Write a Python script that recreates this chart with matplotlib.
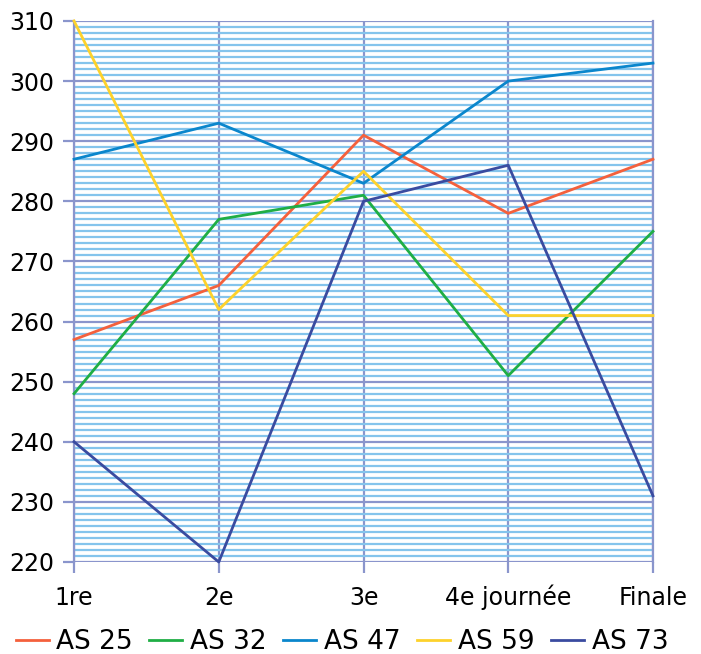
import numpy as np
import matplotlib
matplotlib.use("Agg")
import matplotlib.pyplot as plt
from matplotlib.ticker import MultipleLocator

# --- Data ---
categories = ["1re", "2e", "3e", "4e journée", "Finale"]
as25 = [257, 266, 291, 278, 287]
as32 = [248, 277, 281, 251, 275]
as47 = [287, 293, 283, 300, 303]
as59 = [310, 262, 285, 261, 261]
as73 = [240, 220, 280, 286, 231]

series = [
    ("AS 25", as25, "#f4603c"),
    ("AS 32", as32, "#1fae45"),
    ("AS 47", as47, "#0a86cc"),
    ("AS 59", as59, "#fdd22b"),
    ("AS 73", as73, "#3a4ba0"),
]

grid_major = "#8a95cc"
grid_minor = "#84c4ec"

fig = plt.figure(figsize=(7.01, 6.54), dpi=100)
ax = fig.add_axes([0.1056, 0.1407, 0.8259, 0.8272])

x = np.arange(len(categories))
for name, vals, col in series:
    ax.plot(x, vals, color=col, lw=2, label=name, clip_on=False, zorder=3)

ax.set_xlim(0, len(categories) - 1)
ax.set_ylim(220, 310)
ax.yaxis.set_major_locator(MultipleLocator(10))
ax.yaxis.set_minor_locator(MultipleLocator(1))
ax.set_xticks(x)
ax.set_xticklabels(categories)

ax.grid(which="minor", axis="y", color=grid_minor, lw=1.6, zorder=1)
ax.grid(which="major", axis="y", color=grid_major, lw=1.6, zorder=2)
ax.grid(which="major", axis="x", color=grid_major, lw=1.6, zorder=2)
ax.set_axisbelow(True)

for s in ["top", "bottom"]:
    ax.spines[s].set_visible(False)
for s in ["left", "right"]:
    ax.spines[s].set_color(grid_major)
    ax.spines[s].set_linewidth(1.6)

ax.tick_params(axis="both", which="major", direction="out", length=8,
               width=1.6, color=grid_major, labelsize=17)
ax.tick_params(axis="y", which="major", pad=6)
ax.tick_params(axis="x", which="major", pad=23)
ax.tick_params(axis="y", which="minor", length=0)
for lab in ax.get_xticklabels():
    lab.set_verticalalignment("baseline")

ax.legend(loc="center", bbox_to_anchor=(0.488, 0.0185),
          bbox_transform=fig.transFigure, ncol=5,
          frameon=False, fontsize=19, handlelength=1.25, handletextpad=0.3,
          columnspacing=0.62, borderpad=0, borderaxespad=0)

fig.savefig("out.png", dpi=100)
